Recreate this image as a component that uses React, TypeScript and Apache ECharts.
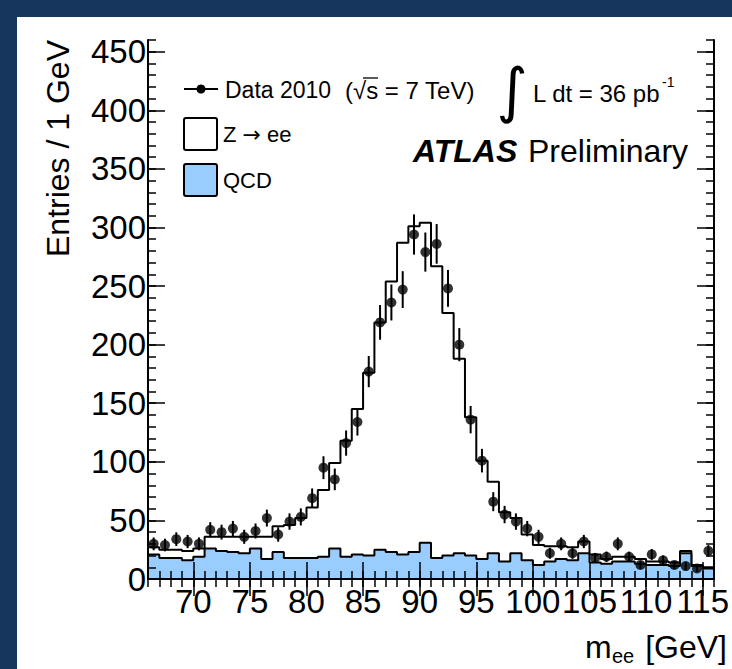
import React, { useEffect, useRef } from 'react';
import * as echarts from 'echarts';

// ---- data (1 GeV bins, 66..116 GeV) ----
const MASS_MIN = 66;
const MASS_MAX = 116;
const BIN_WIDTH = 1;
const binLowEdges: number[] = Array.from({ length: 50 }, (_, i) => MASS_MIN + i * BIN_WIDTH);

const dataCounts = [
  30, 29, 34, 32, 30, 42, 40, 43, 36, 41,
  52, 38, 49, 53, 69, 95, 85, 116, 134, 177,
  219, 236, 247, 294, 279, 286, 248, 200, 136, 101,
  66, 55, 49, 43, 36, 22, 30, 22, 32, 18,
  19, 30, 19, 12, 21, 16, 12, 11, 9, 24,
];

const qcdCounts = [
  21, 18, 18, 16, 19, 26, 24, 23, 22, 26,
  17, 23, 18, 18, 18, 19, 26, 19, 21, 20,
  25, 23, 21, 23, 31, 18, 20, 22, 20, 17,
  22, 15, 22, 16, 12, 15, 17, 16, 22, 14,
  13, 15, 15, 13, 12, 12, 11, 22, 11, 9,
];

const zeeCounts = [
  6, 7, 7, 8, 7, 10, 12, 13, 14, 10,
  19, 22, 28, 34, 43, 57, 73, 99, 124, 156,
  194, 231, 266, 278, 273, 249, 207, 166, 118, 84,
  61, 42, 30, 22, 17, 13, 11, 11, 10, 7,
  4, 4, 4, 4, 3, 3, 3, 2, 1, 1,
];

const xTickLabels = [70, 75, 80, 85, 90, 95, 100, 105, 110, 115];
const yTickLabels = [0, 50, 100, 150, 200, 250, 300, 350, 400, 450];
const Y_MAX = 460;

const NAVY = '#17365d';
const QCD_BLUE = '#99ccff';
const FONT = '"Liberation Sans", Arial, Helvetica, sans-serif';

function stepPoints(vals: number[]) {
  const pts = vals.map((v, i) => [binLowEdges[i], v]);
  pts.push([binLowEdges[vals.length - 1] + BIN_WIDTH, vals[vals.length - 1]]);
  return pts;
}

export default function App() {
  const ref = useRef<HTMLDivElement>(null);

  useEffect(() => {
    if (!ref.current) return;
    const chart = echarts.init(ref.current, undefined, { renderer: 'svg' });

    const totalCounts = qcdCounts.map((q, i) => q + zeeCounts[i]);
    const centers = binLowEdges.map((e) => e + BIN_WIDTH / 2);
    const points = dataCounts.map((v, i) => [centers[i], v]);
    const errors = dataCounts.map((v, i) => [centers[i], v, Math.sqrt(v)]);

    const labelStyle = { fontFamily: FONT, fontSize: 33, color: '#000' };
    const frameLine = { show: true, lineStyle: { color: '#000', width: 2 } };
    const majorTick = (vals: number[]) => ({
      show: true, inside: true, length: 17, customValues: vals,
      lineStyle: { color: '#000', width: 1.5 },
    });
    const minorTick = { show: true, inside: true, length: 8, lineStyle: { color: '#000', width: 1.5 } };

    const xBase = { type: 'value', min: MASS_MIN, max: MASS_MAX, splitLine: { show: false }, z: 10 };
    const yBase = { type: 'value', min: 0, max: Y_MAX, splitLine: { show: false }, z: 10 };

    chart.setOption({
      animation: false,
      backgroundColor: '#ffffff',
      grid: { left: 148, top: 40, width: 579, height: 539, containLabel: false },
      xAxis: [
        { ...xBase, position: 'bottom', axisLine: frameLine, axisTick: majorTick(xTickLabels),
          axisLabel: { ...labelStyle, customValues: xTickLabels, margin: 6 } },
        { ...xBase, position: 'bottom', interval: 1, axisLine: { show: false }, axisTick: minorTick,
          axisLabel: { show: false } },
        { ...xBase, position: 'top', axisLine: frameLine, axisTick: majorTick(xTickLabels),
          axisLabel: { show: false } },
        { ...xBase, position: 'top', interval: 1, axisLine: { show: false }, axisTick: minorTick,
          axisLabel: { show: false } },
      ],
      yAxis: [
        { ...yBase, position: 'left', axisLine: frameLine, axisTick: majorTick(yTickLabels),
          axisLabel: { ...labelStyle, customValues: yTickLabels, margin: 2 } },
        { ...yBase, position: 'left', interval: 10, axisLine: { show: false }, axisTick: minorTick,
          axisLabel: { show: false } },
        { ...yBase, position: 'right', axisLine: frameLine, axisTick: majorTick(yTickLabels),
          axisLabel: { show: false } },
        { ...yBase, position: 'right', interval: 10, axisLine: { show: false }, axisTick: minorTick,
          axisLabel: { show: false } },
      ],
      series: [
        {
          name: 'Z → ee', type: 'line', step: 'end', data: stepPoints(totalCounts),
          showSymbol: false, symbol: 'none', lineStyle: { color: '#000', width: 2 },
          areaStyle: { color: '#ffffff', opacity: 1 }, z: 2,
        },
        {
          name: 'QCD', type: 'line', step: 'end', data: stepPoints(qcdCounts),
          showSymbol: false, symbol: 'none', lineStyle: { color: '#000', width: 2 },
          areaStyle: { color: QCD_BLUE, opacity: 1 }, z: 3,
        },
        {
          name: 'Data errors', type: 'custom', data: errors, z: 4,
          renderItem: (params: any, api: any) => {
            const x = api.value(0);
            const y = api.value(1);
            const e = api.value(2);
            const p1 = api.coord([x, y - e]);
            const p2 = api.coord([x, y + e]);
            return {
              type: 'line',
              shape: { x1: p1[0], y1: p1[1], x2: p2[0], y2: p2[1] },
              style: { stroke: '#000', lineWidth: 2 },
            };
          },
        },
        {
          name: 'Data 2010', type: 'scatter', data: points, symbol: 'circle', symbolSize: 10,
          itemStyle: { color: '#000' }, z: 5,
        },
      ],
      graphic: [
        { type: 'rect', shape: { x: 0, y: 0, width: 732, height: 17 }, style: { fill: NAVY }, z: 100 },
        { type: 'rect', shape: { x: 0, y: 0, width: 17, height: 669 }, style: { fill: NAVY }, z: 100 },
        // y title
        { type: 'text', x: 58, y: 40, rotation: Math.PI / 2,
          style: { text: 'Entries / 1 GeV', fontFamily: FONT, fontSize: 32, fill: '#000',
            align: 'right', verticalAlign: 'middle' } },
        // x title
        { type: 'text', x: 727, y: 647,
          style: { text: '[GeV]', fontFamily: FONT, fontSize: 32, fill: '#000', align: 'right', verticalAlign: 'middle' } },
        { type: 'text', x: 585, y: 647,
          style: { text: 'm', fontFamily: FONT, fontSize: 32, fill: '#000', align: 'left', verticalAlign: 'middle' } },
        { type: 'text', x: 612, y: 656,
          style: { text: 'ee', fontFamily: FONT, fontSize: 20, fill: '#000', align: 'left', verticalAlign: 'middle' } },
        // legend: data
        { type: 'line', shape: { x1: 184, y1: 89, x2: 218, y2: 89 }, style: { stroke: '#000', lineWidth: 2 } },
        { type: 'circle', shape: { cx: 201, cy: 89, r: 4.5 }, style: { fill: '#000' } },
        { type: 'text', x: 225, y: 90,
          style: { text: 'Data 2010', fontFamily: FONT, fontSize: 23, fill: '#000', align: 'left', verticalAlign: 'middle' } },
        { type: 'text', x: 345, y: 90,
          style: { text: '(√s = 7 TeV)', fontFamily: FONT, fontSize: 24, fill: '#000', align: 'left', verticalAlign: 'middle' } },
        { type: 'line', shape: { x1: 363, y1: 78, x2: 378, y2: 78 }, style: { stroke: '#000', lineWidth: 1.3 } },
        // legend: Z->ee
        { type: 'rect', shape: { x: 184, y: 118, width: 33, height: 32, r: 2 },
          style: { fill: '#fff', stroke: '#000', lineWidth: 2 } },
        { type: 'text', x: 223, y: 134,
          style: {
            text: '{a|Z }{b|→}{a| ee}',
            rich: {
              a: { fontFamily: FONT, fontSize: 22, fill: '#000', color: '#000' },
              b: { fontFamily: '"DejaVu Sans", sans-serif', fontSize: 22, fill: '#000', color: '#000' },
            },
            align: 'left', verticalAlign: 'middle',
          } },
        // legend: QCD
        { type: 'rect', shape: { x: 184, y: 164, width: 33, height: 32, r: 2 },
          style: { fill: QCD_BLUE, stroke: '#000', lineWidth: 2 } },
        { type: 'text', x: 223, y: 180,
          style: { text: 'QCD', fontFamily: FONT, fontSize: 22, fill: '#000', align: 'left', verticalAlign: 'middle' } },
        // luminosity
        { type: 'text', x: 512, y: 90,
          style: { text: '∫', fontFamily: '"DejaVu Sans", sans-serif', fontSize: 60, fill: '#000', align: 'center', verticalAlign: 'middle' } },
        { type: 'text', x: 533, y: 93,
          style: { text: 'L dt = 36 pb', fontFamily: FONT, fontSize: 24, fill: '#000', align: 'left', verticalAlign: 'middle' } },
        { type: 'text', x: 662, y: 82,
          style: { text: '-1', fontFamily: FONT, fontSize: 14, fill: '#000', align: 'left', verticalAlign: 'middle' } },
        // ATLAS Preliminary
        { type: 'text', x: 413, y: 151,
          style: { text: 'ATLAS', fontFamily: FONT, fontSize: 32, fontWeight: 'bold', fontStyle: 'italic',
            fill: '#000', align: 'left', verticalAlign: 'middle' } },
        { type: 'text', x: 528, y: 151,
          style: { text: 'Preliminary', fontFamily: FONT, fontSize: 32, fill: '#000', align: 'left', verticalAlign: 'middle' } },
      ],
    });

    return () => chart.dispose();
  }, []);

  return (
    <div style={{ position: 'fixed', left: 0, top: 0, width: 732, height: 669, background: '#fff' }}>
      <div ref={ref} style={{ width: 732, height: 669 }} />
    </div>
  );
}
